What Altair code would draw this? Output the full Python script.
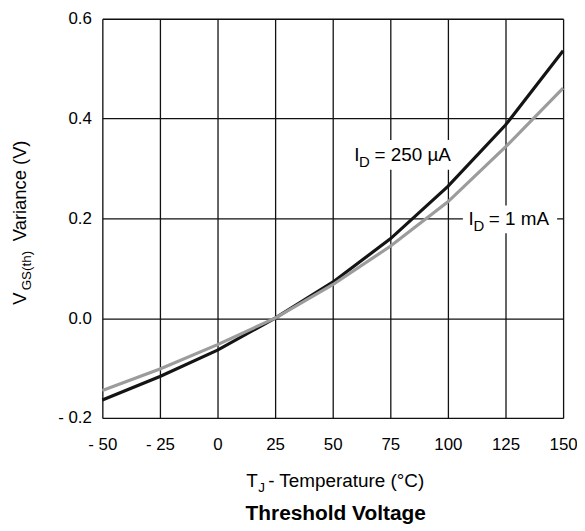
import altair as alt
import pandas as pd

# ---- data ----
temps = [-50, -25, 0, 25, 50, 75, 100, 125, 150]
vth_250uA = [-0.164, -0.117, -0.064, 0.0, 0.072, 0.159, 0.264, 0.387, 0.536]
vth_1mA = [-0.145, -0.102, -0.053, 0.0, 0.067, 0.144, 0.233, 0.343, 0.461]
series_names = ["ID = 250 µA", "ID = 1 mA"]
x_ticks = [-50, -25, 0, 25, 50, 75, 100, 125, 150]
y_ticks = [-0.2, 0.0, 0.2, 0.4, 0.6]

FONT = "Liberation Sans"

rows = []
for t, a, b in zip(temps, vth_250uA, vth_1mA):
    rows.append({"T": t, "V": a, "series": series_names[0]})
    rows.append({"T": t, "V": b, "series": series_names[1]})
df = pd.DataFrame(rows)

xscale = alt.Scale(domain=[-50, 150], nice=False, zero=False)
yscale = alt.Scale(domain=[-0.2, 0.6], nice=False, zero=False)

xaxis = alt.Axis(values=x_ticks, grid=True, ticks=False, domain=False,
                 labelFontSize=17, labelFont=FONT, labelColor="black",
                 labelPadding=19, labelFlush=False, labelOverlap=False,
                 labelExpr="datum.value < 0 ? '- ' + abs(datum.value) : datum.label",
                 gridColor="#111111", gridWidth=1.3, gridOpacity=1)
yaxis = alt.Axis(values=y_ticks, grid=True, ticks=False, domain=False,
                 labelFontSize=17, labelFont=FONT, labelColor="black",
                 labelPadding=11, labelFlush=False, labelOverlap=False,
                 labelExpr="datum.value < 0 ? '- ' + format(abs(datum.value), '.1f') : format(datum.value, '.1f')",
                 gridColor="#111111", gridWidth=1.3, gridOpacity=1)

base = alt.Chart(df)

line_250 = base.transform_filter(alt.datum.series == series_names[0]).mark_line(
    color="#141414", strokeWidth=3.2).encode(
    x=alt.X("T:Q", scale=xscale, axis=xaxis, title=None),
    y=alt.Y("V:Q", scale=yscale, axis=yaxis, title=None),
)
line_1m = base.transform_filter(alt.datum.series == series_names[1]).mark_line(
    color="#9c9c9c", strokeWidth=3.2).encode(
    x=alt.X("T:Q", scale=xscale, axis=xaxis, title=None),
    y=alt.Y("V:Q", scale=yscale, axis=yaxis, title=None),
)

one = pd.DataFrame({"k": [0]})


def box(x1, x2, y1, y2):
    return alt.Chart(one).mark_rect(color="white").encode(
        x=alt.XDatum(x1), x2=alt.X2Datum(x2),
        y=alt.YDatum(y1), y2=alt.Y2Datum(y2))


def dtext(text, xv, yv, dx=0, dy=0, size=19, weight="normal"):
    return alt.Chart(pd.DataFrame({"t": [text]})).mark_text(
        align="left", baseline="alphabetic", dx=dx, dy=dy, fontSize=size,
        font=FONT, color="black", fontWeight=weight).encode(
        x=alt.XDatum(xv), y=alt.YDatum(yv), text="t:N")


def ptext(text, px, py, dx=0, dy=0, size=19, weight="normal", align="left", angle=0):
    kw = dict(align=align, baseline="alphabetic", dx=dx, dy=dy, fontSize=size,
              font=FONT, color="black", fontWeight=weight)
    if angle:
        kw["angle"] = angle
    return alt.Chart(pd.DataFrame({"t": [text]})).mark_text(**kw).encode(
        x=alt.value(px), y=alt.value(py), text="t:N")


layers = [
    box(57.3, 103.6, 0.357, 0.2975),
    box(106.5, 147.4, 0.2259, 0.170),
    line_250,
    line_1m,
    # I_D = 250 µA
    dtext("I", 59.3, 0.3154),
    dtext("D", 59.3, 0.3154, dx=5.0, dy=6, size=15),
    dtext("= 250 µA", 59.3, 0.3154, dx=20.5),
    # I_D = 1 mA
    dtext("I", 108.9, 0.186),
    dtext("D", 108.9, 0.186, dx=5.0, dy=6, size=15),
    dtext("= 1 mA", 108.9, 0.186, dx=20.5),
    # x-axis title  T_J - Temperature (°C)
    ptext("T", 145, 471.3),
    ptext("J", 157, 471.3, dy=5, size=13.5),
    ptext("- Temperature (°C)", 167, 471.3),
    # y-axis title  V_GS(th) Variance (V)
    ptext("V", -77, 288, size=18.5, angle=270),
    ptext("GS(th)", -77, 288, dx=14.5, dy=5.5, size=13.5, angle=270),
    ptext("Variance (V)", -77, 288, dx=64, size=18.5, angle=270),
    # chart caption
    ptext("Threshold Voltage", 235, 504.7, size=21, weight="bold", align="center"),
]

chart = alt.layer(*layers).properties(
    width=464, height=402,
    autosize=alt.AutoSizeParams(type="none"),
    padding={"left": 95, "top": 9, "right": 14, "bottom": 108},
).configure_view(stroke="black", strokeWidth=2.5).configure(background="white")

chart.save("out.html", embed_options={"renderer": "svg", "actions": False})
